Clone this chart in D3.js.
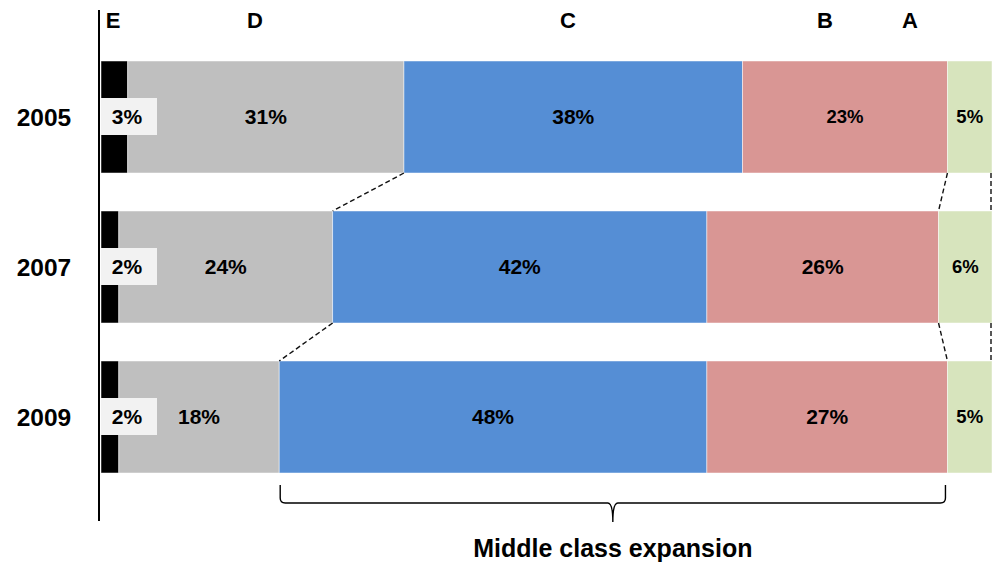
<!DOCTYPE html>
<html>
<head>
<meta charset="utf-8">
<script src="https://cdn.jsdelivr.net/npm/d3@7"></script>
<style>
  html, body { margin: 0; padding: 0; background: #fff; }
  svg { display: block; font-family: "Liberation Sans", Arial, sans-serif; }
</style>
</head>
<body>
<svg id="chart" width="992" height="563"></svg>
<script>
// Income class shares by year (percent), from lowest (E) to highest (A)
const years = ["2005", "2007", "2009"];
const classes = ["E", "D", "C", "B", "A"];
const shareE = [3, 2, 2];
const shareD = [31, 24, 18];
const shareC = [38, 42, 48];
const shareB = [23, 26, 27];
const shareA = [5, 6, 5];
const classColors = ["#000000", "#bfbfbf", "#558ed5", "#d99694", "#d7e4bd"];
const braceLabel = "Middle class expansion";

(function draw() {
  const series = [shareE, shareD, shareC, shareB, shareA];
  const rows = years.map((year, i) => {
    const row = { year };
    classes.forEach((c, k) => { row[c] = series[k][i]; });
    return row;
  });

  const svg = d3.select("#chart");

  const x = d3.scaleLinear().domain([0, 100]).range([101, 992]);
  const y = d3.scaleBand().domain(years).range([42, 492])
    .paddingInner(0.2533).paddingOuter(0.12667);
  const color = d3.scaleOrdinal().domain(classes).range(classColors);

  const stacked = d3.stack().keys(classes)(rows);

  // Bars
  const layers = svg.append("g").selectAll("g")
    .data(stacked).join("g")
    .attr("fill", d => color(d.key));

  layers.selectAll("rect")
    .data(d => d)
    .join("rect")
    .attr("x", d => x(d[0]))
    .attr("y", d => y(d.data.year))
    .attr("width", d => x(d[1]) - x(d[0]))
    .attr("height", y.bandwidth())
    .attr("stroke", "#ffffff")
    .attr("stroke-opacity", 0.6)
    .attr("stroke-width", 0.8);

  // Dashed connectors between consecutive years at the C start, A start and A end
  const connectorKeys = [{ layer: 2, side: 0 }, { layer: 4, side: 0 }, { layer: 4, side: 1 }];
  const connectors = [];
  connectorKeys.forEach(ck => {
    const layer = stacked[ck.layer];
    for (let i = 0; i < years.length - 1; i++) {
      let x1 = x(layer[i][ck.side]);
      let x2 = x(layer[i + 1][ck.side]);
      if (ck.side === 1) { x1 -= 1; x2 -= 1; }
      connectors.push({
        x1, x2,
        y1: y(years[i]) + y.bandwidth(),
        y2: y(years[i + 1])
      });
    }
  });
  svg.append("g").selectAll("line")
    .data(connectors).join("line")
    .attr("x1", d => d.x1).attr("y1", d => d.y1)
    .attr("x2", d => d.x2).attr("y2", d => d.y2)
    .attr("stroke", "#111").attr("stroke-width", 1.4)
    .attr("stroke-dasharray", "5,3");

  // Value labels
  const labelG = svg.append("g")
    .attr("font-weight", "bold").attr("font-size", 21)
    .attr("text-anchor", "middle").attr("fill", "#000");

  stacked.forEach(layer => {
    layer.forEach(p => {
      const cy = y(p.data.year) + y.bandwidth() / 2;
      const value = p.data[layer.key];
      if (layer.key === "E") {
        // E values sit in a small light box straddling the bar start
        labelG.append("rect")
          .attr("x", x(0)).attr("y", cy - 19)
          .attr("width", 56).attr("height", 37)
          .attr("fill", "#f2f2f2");
        labelG.append("text")
          .attr("x", x(0) + 26).attr("y", cy)
          .attr("dy", "0.35em")
          .text(value + "%");
      } else {
        const small = layer.key === "A" || (layer.key === "B" && p.data.year === "2005");
        labelG.append("text")
          .attr("x", (x(p[0]) + x(p[1])) / 2).attr("y", cy)
          .attr("dy", "0.35em")
          .attr("font-size", small ? 18.5 : 21)
          .text(value + "%");
      }
    });
  });

  // Year labels
  svg.append("g").selectAll("text")
    .data(years).join("text")
    .attr("x", 44).attr("y", d => y(d) + y.bandwidth() / 2)
    .attr("dy", "0.35em")
    .attr("text-anchor", "middle")
    .attr("font-weight", "bold").attr("font-size", 24.5)
    .text(d => d);

  // Class headers
  const headerX = { E: 113, D: 255, C: 568, B: 825, A: 910 };
  svg.append("g").selectAll("text")
    .data(classes).join("text")
    .attr("x", d => headerX[d]).attr("y", 28)
    .attr("text-anchor", "middle")
    .attr("font-weight", "bold").attr("font-size", 22)
    .text(d => d);

  // Vertical axis line
  svg.append("line")
    .attr("x1", 99).attr("x2", 99).attr("y1", 10).attr("y2", 521)
    .attr("stroke", "#000").attr("stroke-width", 2);

  // Brace under the middle classes (C + B) of the last year
  const last = years.length - 1;
  const bx0 = x(stacked[2][last][0]) + 1;
  const bx1 = x(stacked[3][last][1]) - 2;
  const bmid = (bx0 + bx1) / 2;
  const braceTop = y(years[last]) + y.bandwidth() + 12;
  const hy = braceTop + 18;
  const tip = braceTop + 37;
  const r = 5;
  const brace = d3.path();
  brace.moveTo(bx0, braceTop);
  brace.lineTo(bx0, hy - r);
  brace.quadraticCurveTo(bx0, hy, bx0 + r, hy);
  brace.lineTo(bmid - r, hy);
  brace.quadraticCurveTo(bmid, hy, bmid, tip);
  brace.quadraticCurveTo(bmid, hy, bmid + r, hy);
  brace.lineTo(bx1 - r, hy);
  brace.quadraticCurveTo(bx1, hy, bx1, hy - r);
  brace.lineTo(bx1, braceTop);
  svg.append("path")
    .attr("d", brace.toString())
    .attr("fill", "none").attr("stroke", "#000").attr("stroke-width", 1.4);

  svg.append("text")
    .attr("x", bmid).attr("y", 557)
    .attr("text-anchor", "middle")
    .attr("font-weight", "bold").attr("font-size", 25)
    .text(braceLabel);
})();
</script>
</body>
</html>
